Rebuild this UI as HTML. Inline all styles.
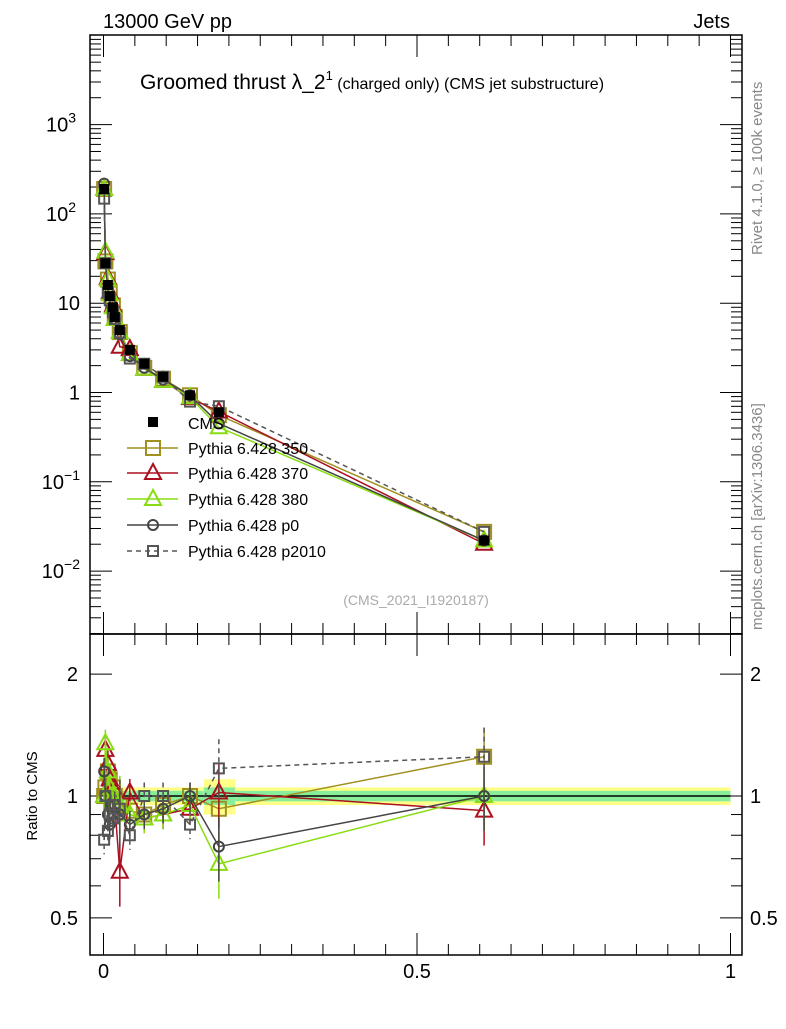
<!DOCTYPE html>
<html><head><meta charset="utf-8"><style>body{margin:0;background:#fff}svg{font-family:"Liberation Sans",sans-serif}</style></head>
<body>
<svg id="c" width="786" height="1024">
<text x="103" y="28" font-size="20">13000 GeV pp</text>
<text x="730" y="28" font-size="20" text-anchor="end">Jets</text>
<text x="140" y="89" font-size="21">Groomed thrust λ_2<tspan font-size="13" dy="-9">1</tspan><tspan font-size="16" dy="9"> (charged only) (CMS jet substructure)</tspan></text>
<text transform="translate(762,255) rotate(-90)" font-size="15" fill="#888">Rivet 4.1.0, ≥ 100k events</text>
<text transform="translate(762,630) rotate(-90)" font-size="15" fill="#888">mcplots.cern.ch [arXiv:1306.3436]</text>
<text x="416" y="605" font-size="14" fill="#aaa" text-anchor="middle">(CMS_2021_I1920187)</text>
<text transform="translate(37,796) rotate(-90)" font-size="15" text-anchor="middle">Ratio to CMS</text>
<g id="g"></g>
</svg>
<script>
const xs=[0.001,0.003,0.007,0.01,0.015,0.018,0.026,0.042,0.065,0.095,0.138,0.184,0.607];
const cms=[190,28,16,12,9,7,5,3,2.1,1.5,0.93,0.6,0.022];
const r350=[1.0,1.05,1.15,1.1,1.05,1.0,0.95,0.92,0.9,0.95,1.0,0.93,1.25];
const r370=[1.0,1.3,1.2,1.1,1.05,0.95,0.65,1.02,0.88,0.9,0.93,1.02,0.92];
const r380=[1.0,1.35,1.15,1.05,1.0,0.95,0.95,0.9,0.88,0.9,0.95,0.68,1.0];
const rp0=[1.15,1.0,0.9,0.85,0.9,0.95,0.9,0.85,0.9,0.93,1.0,0.75,1.0];
const rp2010=[0.78,1.0,0.82,0.9,0.88,0.95,0.93,0.8,1.0,1.0,0.85,1.17,1.25];
const bandEdges=[0,0.11,0.16,0.21,1];
const bandY=[0.05,0.05,0.1,0.05];
const bandG=[0.03,0.03,0.05,0.03];
const NS="http://www.w3.org/2000/svg",g=document.getElementById('g');
function el(t,a,p){const e=document.createElementNS(NS,t);for(const k in a)e.setAttribute(k,a[k]);(p||g).appendChild(e);return e;}
const X=v=>103.5+627*v;
const Ym=v=>392.5-89.3*Math.log10(v);
const Yr=v=>796-405*Math.log10(v);
const L=90,R=742,T1=35,B1=634,B2=955;
for(let i=0;i<bandY.length;i++){
 const b=el('rect',{x:X(bandEdges[i]),y:Yr(1+bandY[i]),width:X(bandEdges[i+1])-X(bandEdges[i]),height:Yr(1-bandY[i])-Yr(1+bandY[i]),fill:'#ffff88'});
 
 const c=el('rect',{x:X(bandEdges[i]),y:Yr(1+bandG[i]),width:X(bandEdges[i+1])-X(bandEdges[i]),height:Yr(1-bandG[i])-Yr(1+bandG[i]),fill:'#88ee99'});
 
}
el('line',{x1:X(0),x2:X(1),y1:Yr(1),y2:Yr(1),stroke:'#000','stroke-width':1.5});
el('rect',{x:L,y:T1,width:R-L,height:B1-T1,fill:'none',stroke:'#000','stroke-width':1.5});
el('rect',{x:L,y:B1,width:R-L,height:B2-B1,fill:'none',stroke:'#000','stroke-width':1.5});
for(let d=-3;d<=3;d++)for(let m=1;m<10;m++){const v=m*Math.pow(10,d),y=Ym(v);if(y<T1||y>B1)continue;const len=m==1?22:11;
 el('line',{x1:L,x2:L+len,y1:y,y2:y,stroke:'#000'});el('line',{x1:R,x2:R-len,y1:y,y2:y,stroke:'#000'});}
const ml=[[1000,'10','3'],[100,'10','2'],[10,'10',''],[1,'1',''],[0.1,'10','−1'],[0.01,'10','−2']];
ml.forEach(m=>{const t=el('text',{x:80,y:Ym(m[0])+7,'font-size':20,'text-anchor':'end'});t.textContent=m[1];
 
 if(m[2]){const s=el('tspan',{'font-size':14,dy:-9},t);s.textContent=m[2];t.setAttribute('x',m[2].length>1?80:76);}});
[0.5,0.6,0.7,0.8,0.9,1,2].forEach(v=>{const y=Yr(v),len=(v==1||v==2||v==0.5)?22:11;el('line',{x1:L,x2:L+len,y1:y,y2:y,stroke:'#000'});el('line',{x1:R,x2:R-len,y1:y,y2:y,stroke:'#000'});});
[[2,'2'],[1,'1'],[0.5,'0.5']].forEach(m=>{const a=el('text',{x:78,y:Yr(m[0])+7,'font-size':20,'text-anchor':'end'});a.textContent=m[1];
 
 const b=el('text',{x:750,y:Yr(m[0])+7,'font-size':20});b.textContent=m[1];
 });
for(let i=0;i<=20;i++){const v=i*0.05,x=X(v),len=i%10==0?22:11;
 [[T1,1],[B1,-1],[B1,1],[B2,-1]].forEach(p=>el('line',{x1:x,x2:x,y1:p[0],y2:p[0]+p[1]*len,stroke:'#000'}));}
[[0,'0'],[0.5,'0.5'],[1,'1']].forEach(m=>{const t=el('text',{x:X(m[0]),y:978,'font-size':20,'text-anchor':'middle'});t.textContent=m[1];
 });
const S=[
 {n:'pythia-350',r:r350,c:'#a09020',m:'sq',l:'Pythia 6.428 350',d:''},
 {n:'pythia-370',r:r370,c:'#aa1020',m:'tri',l:'Pythia 6.428 370',d:''},
 {n:'pythia-380',r:r380,c:'#88dd11',m:'tri',l:'Pythia 6.428 380',d:''},
 {n:'pythia-p0',r:rp0,c:'#444',m:'circ',l:'Pythia 6.428 p0',d:''},
 {n:'pythia-p2010',r:rp2010,c:'#555',m:'ssq',l:'Pythia 6.428 p2010',d:'5,4'}];
function mark(type,x,y,c,name){let e;
 if(type=='sq')e=el('rect',{x:x-7,y:y-7,width:14,height:14,fill:'none',stroke:c,'stroke-width':2});
 else if(type=='ssq')e=el('rect',{x:x-5,y:y-5,width:10,height:10,fill:'none',stroke:c,'stroke-width':2});
 else if(type=='tri')e=el('path',{d:`M${x},${y-9}L${x+8},${y+6}L${x-8},${y+6}Z`,fill:'none',stroke:c,'stroke-width':2});
 else if(type=='circ')e=el('circle',{cx:x,cy:y,r:5,fill:'none',stroke:c,'stroke-width':2});
 else e=el('rect',{x:x-5,y:y-5,width:10,height:10,fill:c});
 }
S.forEach(s=>{
 const pm=xs.map((x,i)=>[X(x),Ym(cms[i]*s.r[i])]).map(p=>p.join(',')).join(' ');
 const a=el('polyline',{points:pm,fill:'none',stroke:s.c,'stroke-width':1.5,'stroke-dasharray':s.d});
 
 const pr=xs.map((x,i)=>[X(x),Yr(s.r[i])]).map(p=>p.join(',')).join(' ');
 const b=el('polyline',{points:pr,fill:'none',stroke:s.c,'stroke-width':1.5,'stroke-dasharray':s.d});
 
 xs.forEach((x,i)=>{const e=0.08+0.1*(i==6||i==11||i==12?1:0);
  el('line',{x1:X(x),x2:X(x),y1:Yr(s.r[i]*(1+e)),y2:Yr(s.r[i]*(1-e)),stroke:s.c,'stroke-width':1.5,'stroke-dasharray':s.d});
  mark(s.m,X(x),Ym(cms[i]*s.r[i]),s.c,s.n+'-marker');
  mark(s.m,X(x),Yr(s.r[i]),s.c,s.n+'-ratio-marker');});
});
xs.forEach((x,i)=>mark('fill',X(x),Ym(cms[i]),'#000','cms-point'));
const ly=[422,448,473,499,525,551];
mark('fill',153,ly[0],'#000','legend-cms-marker');
const t0=el('text',{x:188,y:ly[0]+7,'font-size':16});t0.textContent='CMS';
S.forEach((s,i)=>{const y=ly[i+1];
 el('line',{x1:127,x2:178,y1:y,y2:y,stroke:s.c,'stroke-width':1.5,'stroke-dasharray':s.d});
 mark(s.m,153,y,s.c,'legend-'+s.n+'-marker');
 const t=el('text',{x:188,y:y+6,'font-size':16});t.textContent=s.l;
 });
</script>
</body></html>
